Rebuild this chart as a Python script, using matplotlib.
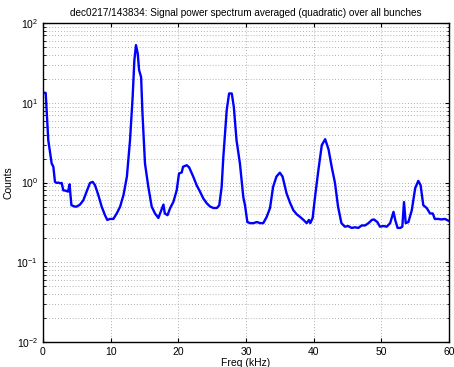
## Signal power spectrum averaged over all bunches
import matplotlib
matplotlib.use('Agg')
import matplotlib.pyplot as plt
from matplotlib.ticker import LogLocator, NullFormatter

# frequency (kHz) and counts
freq = [0.0, 0.4, 0.78, 1.28, 1.53, 1.77, 2.02, 2.27, 2.5, 2.76, 3.0, 3.4, 3.7, 3.94, 4.04,
        4.2, 4.7, 4.97, 5.47, 5.96, 6.45, 6.94, 7.34, 7.68, 8.17, 8.67, 9.16, 9.5, 9.9,
        10.4, 10.9, 11.4, 11.9, 12.4, 12.86, 13.25, 13.5, 13.74, 14.0, 14.2, 14.5, 14.7,
        15.07, 15.57, 16.06, 16.55, 17.05, 17.4, 17.8, 18.0, 18.4, 18.8, 19.26, 19.76,
        20.1, 20.5, 20.7, 21.24, 21.6, 22.2, 22.7, 23.2, 23.7, 24.2, 24.7, 25.2, 25.7,
        26.05, 26.4, 26.65, 27.15, 27.5, 27.9, 28.2, 28.6, 29.1, 29.6, 29.85, 30.2, 30.6,
        31.1, 31.6, 32.1, 32.55, 33.05, 33.55, 34.0, 34.5, 35.0, 35.4, 36.0, 36.5, 37.0,
        37.5, 38.0, 38.5, 38.97, 39.3, 39.5, 39.85, 40.2, 40.7, 41.2, 41.7, 42.2, 42.66,
        43.15, 43.6, 44.1, 44.6, 45.1, 45.6, 46.1, 46.6, 47.1, 47.6, 48.1, 48.6, 48.9,
        49.4, 49.8, 50.3, 50.8, 51.3, 51.8, 52.05, 52.4, 52.8, 53.1, 53.35, 53.6, 54.0,
        54.5, 55.0, 55.46, 55.8, 56.2, 56.7, 57.2, 57.6, 57.9, 58.4, 58.9, 59.4, 60.0]
counts = [13.5, 13.3, 3.4, 1.74, 1.58, 1.02, 0.99, 1.0, 0.98, 0.99, 0.8, 0.79, 0.77, 0.95, 0.73,
          0.52, 0.5, 0.5, 0.53, 0.6, 0.77, 0.99, 1.02, 0.93, 0.7, 0.5, 0.39, 0.34, 0.35,
          0.35, 0.41, 0.5, 0.7, 1.19, 3.4, 11.9, 34.0, 53.0, 41.7, 25.8, 21.0, 7.4,
          1.74, 0.88, 0.5, 0.41, 0.36, 0.43, 0.53, 0.41, 0.39, 0.48, 0.57, 0.8,
          1.3, 1.34, 1.58, 1.65, 1.55, 1.19, 0.93, 0.77, 0.63, 0.55, 0.5, 0.48, 0.48,
          0.52, 0.88, 2.1, 8.1, 13.1, 13.1, 8.9, 3.4, 1.74, 0.66, 0.52, 0.32, 0.31,
          0.31, 0.32, 0.31, 0.31, 0.37, 0.48, 0.88, 1.19, 1.33, 1.19, 0.73, 0.56, 0.45,
          0.4, 0.37, 0.34, 0.31, 0.34, 0.31, 0.36, 0.66, 1.44, 2.95, 3.5, 2.6, 1.58,
          0.99, 0.5, 0.31, 0.28, 0.285, 0.27, 0.275, 0.27, 0.29, 0.29, 0.31, 0.34, 0.345,
          0.32, 0.28, 0.285, 0.28, 0.31, 0.43, 0.34, 0.27, 0.27, 0.28, 0.57, 0.31, 0.32,
          0.45, 0.85, 1.05, 0.93, 0.52, 0.48, 0.41, 0.41, 0.35, 0.35, 0.345, 0.35, 0.33]

plt.rcParams['font.family'] = ['Liberation Sans', 'DejaVu Sans']
plt.rcParams['font.size'] = 7.5

fig = plt.figure(figsize=(4.54, 3.67), dpi=100)
ax = fig.add_axes([0.0947, 0.068, 0.8943, 0.869])

ax.semilogy(freq, counts, color='#0000ff', lw=1.7)
ax.set_xlim(0, 60)
ax.set_ylim(1e-2, 1e2)
ax.set_xticks([0, 10, 20, 30, 40, 50, 60])
ax.yaxis.set_major_locator(LogLocator(base=10, numticks=10))
ax.yaxis.set_minor_locator(LogLocator(base=10, subs=range(2, 10), numticks=10))
ax.yaxis.set_minor_formatter(NullFormatter())

# matlab style dotted grid
ax.grid(True, which='major', color='#999999', ls=(0, (1, 2.5)), lw=0.6)
ax.grid(True, which='minor', axis='y', color='#999999', ls=(0, (1, 2.5)), lw=0.6)
ax.tick_params(direction='in', which='both', top=True, right=True, length=3, labelsize=7.5)
ax.tick_params(which='minor', length=1.8)
for s in ax.spines.values():
    s.set_linewidth(1.0)

ax.set_xlabel('Freq (kHz)', labelpad=1)
ax.set_ylabel('Counts', labelpad=2)
ax.set_title('dec0217/143834: Signal power spectrum averaged (quadratic) over all bunches',
             fontsize=7.2, pad=5)

fig.savefig('out.png', dpi=100)
